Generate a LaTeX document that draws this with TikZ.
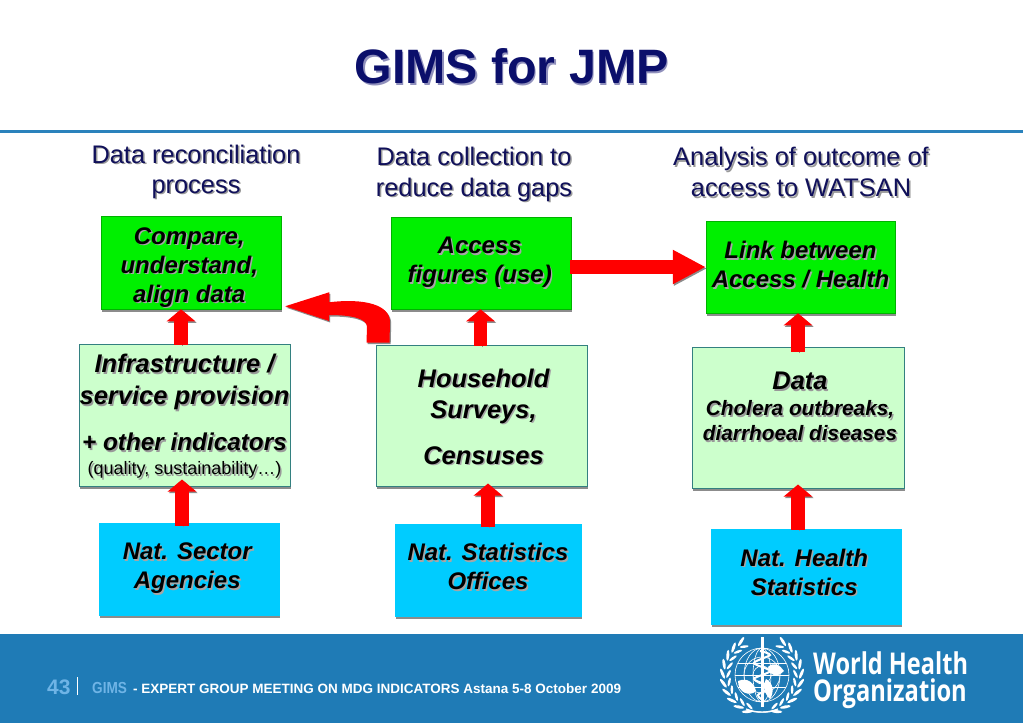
\documentclass[tikz,border=0pt]{standalone}
\usepackage{fontspec}
\setmainfont{Liberation Sans}
\newfontfamily\whofont{Open Sans}
\usepackage{tikz}
\usetikzlibrary{calc, arrows.meta, shadows}
\usepackage{xcolor}
\definecolor{navy}{HTML}{0B0F6B}
\definecolor{headnavy}{HTML}{10105A}
\definecolor{band}{HTML}{1F7BB6}
\definecolor{rule}{HTML}{2A82BC}
\definecolor{boxgreen}{HTML}{00F000}
\definecolor{boxpale}{HTML}{CCFFCC}
\definecolor{boxblue}{HTML}{00CCFF}
\definecolor{palefoot}{HTML}{6FB4E6}
\newcommand{\shd}[2][black!40]{\leavevmode\rlap{\kern1.5pt\raisebox{-1.5pt}{\textcolor{#1}{#2}}}#2}
\newcommand{\lft}[1]{\shd[black!35]{#1}\kern3.5pt}
\newcommand{\rgt}[1]{\kern4pt\shd[black!35]{#1}}
\newcommand{\lowgap}[1]{\rule[-#1]{0pt}{#1}}
\tikzset{
  heading/.style={align=center, text=headnavy, font=\fontsize{25.4}{31}\selectfont},
  boxtext/.style={align=center, font=\fontsize{24}{29}\selectfont\bfseries\itshape},
  flatbox/.style={rectangle, inner sep=0pt, drop shadow={shadow xshift=0.5pt, shadow yshift=-3pt, fill=black!45, opacity=1}},
  greenbox/.style={flatbox, boxtext, fill=boxgreen, draw=green!70!black, line width=0.5pt},
  palebox/.style={flatbox, boxtext, font=\fontsize{25.5}{29}\selectfont\bfseries\itshape, fill=boxpale, draw=teal!60!gray, line width=1pt},
  bluebox/.style={flatbox, boxtext, fill=boxblue, draw=boxblue, line width=0.5pt},
  arrowshadow/.style={preaction={draw=black!45, transform canvas={shift={(1.2pt,-1.5pt)}}}},
  uparrow/.style={arrowshadow, draw=red, line width=13.5pt, -{Triangle[length=12pt, width=28pt]}},
  sidearrow/.style={arrowshadow, draw=red, line width=14pt, -{Triangle[length=33pt, width=32pt]}},
  bendarrow/.style={fill=red, preaction={fill=black!45, transform canvas={shift={(1.2pt,-1.5pt)}}}},
  whotext/.style={anchor=west, text=white, inner sep=0pt, font=\fontsize{30}{30}\selectfont\whofont\bfseries}
}
\begin{document}
\begin{tikzpicture}[x=1pt, y=-1pt]
  \useasboundingbox (0,0) rectangle (1023,723);
  \fill[white] (0,0) rectangle (1023,723);
  \fill[rule] (0,129.5) rectangle (1023,133);
  \fill[band] (0,634) rectangle (1023,723);

  \node[text=navy, font=\fontsize{48.3}{54}\selectfont\bfseries] (title) at (511.5,67) {\shd[blue!25!gray!70]{GIMS for JMP}};

  \node[heading] (recon) at (196,172.5) {\shd{Data reconciliation}\\[-1pt]\shd{process}};
  \node[heading] (collect) at (474,175) {\shd{Data collection to}\\\shd{reduce data gaps}};
  \node[heading] (analysis) at (801,173) {\shd{Analysis of outcome of}\\\shd{access to WATSAN}};

  \node[greenbox, minimum width=180pt, minimum height=93pt] (compare) at (191,262.5) {\rule{0pt}{28pt}\lft{Compare,}\\\lft{understand,}\\\lft{align data}};
  \node[greenbox, minimum width=180pt, minimum height=92pt] (access) at (481.5,263) {\lft{Access}\\\lft{figures (use)}};
  \node[greenbox, minimum width=189pt, minimum height=92pt] (link) at (800.5,267) {\shd[black!35]{Link between}\\\shd[black!35]{Access / Health}\lowgap{5pt}};

  \node[palebox, minimum width=211pt, minimum height=142pt] (infra) at (184.5,415) {\rule{0pt}{23pt}\shd{Infrastructure /}\\[3pt]\shd{service provision}\\[17pt]{\fontsize{24.3}{29}\selectfont\shd{+ other indicators}}\\[-5pt]{\fontsize{18}{21}\selectfont\normalfont\shd{(quality, sustainability…)}}};
  \node[palebox, minimum width=211pt, minimum height=141pt] (house) at (481.5,415.5) {\rule{0pt}{22pt}\rgt{Household}\\[2pt]\rgt{Surveys,}\\[17pt]\rgt{Censuses}};
  \node[palebox, minimum width=212pt, minimum height=141pt] (data) at (798,417.5) {\kern4pt\shd{Data}\\[-3pt]{\fontsize{20.8}{24}\selectfont\kern4pt\shd{Cholera outbreaks,}}\\[-4pt]{\fontsize{20.8}{24}\selectfont\kern4pt\shd{diarrhoeal diseases}}\lowgap{22pt}};

  \node[bluebox, minimum width=180pt, minimum height=92pt] (sector) at (189,569) {\lft{Nat. Sector}\\\lft{Agencies}};
  \node[bluebox, minimum width=186pt, minimum height=92pt] (stats) at (488,570) {\shd[black!35]{Nat. Statistics}\\\shd[black!35]{Offices}\lowgap{7pt}};
  \node[bluebox, minimum width=190pt, minimum height=95pt] (health) at (806,576.5) {\lft{Nat. Health}\\\lft{Statistics}\lowgap{9pt}};

  \draw[uparrow] ([xshift=-3.5pt,yshift=-1pt]infra.north) -- ([xshift=-10pt]compare.south);
  \draw[uparrow] ([yshift=-1pt,xshift=-1pt]house.north) -- ([xshift=-1pt]access.south);
  \draw[uparrow] ([yshift=-5pt]data.north) -- (link.south -| data.north);
  \draw[uparrow] ([xshift=-7pt,yshift=-3pt]sector.north) -- ([xshift=-2.5pt,yshift=7pt]infra.south);
  \draw[uparrow] ([yshift=-3pt]stats.north) -- ([xshift=6.5pt,yshift=3pt]house.south);
  \draw[uparrow] ([xshift=-8pt,yshift=-1pt]health.north) -- ([yshift=4pt]data.south);
  \draw[sidearrow] ([xshift=-2pt,yshift=-4pt]access.east) -- (link.west);

  \coordinate (bendtip) at ($(compare.south east)+(4,-3)$);
  \coordinate (bendfoot) at ($(house.north west)+(14,-2)$);
  \path[bendarrow] (bendtip) -- ++(44,-14) -- ++(0,10)
    .. controls (365,298) and (390,305) .. (390,322) -- (bendfoot) -- ++(-23,0) -- (367,327)
    .. controls (367,318) and (350,315) .. (329,315) -- (329,321) -- cycle;

  \node[anchor=west, text=palefoot, font=\fontsize{21}{24}\selectfont\bfseries, inner xsep=0pt] (slide) at (47,687) {43};
  \fill[white] (76.5,677) rectangle (78,695);
  \node[anchor=west, text=palefoot, font=\fontsize{16}{19}\selectfont\bfseries, inner xsep=0pt] (gims) at (92,688) {\scalebox{.85}[1]{GIMS}};
  \node[anchor=west, text=white, font=\fontsize{13.5}{16}\selectfont\bfseries, inner xsep=0pt] (meeting) at (133,689) {- EXPERT GROUP MEETING ON MDG INDICATORS Astana 5-8 October 2009};

  \node[whotext] (who1) at (813,663) {\scalebox{.785}[1]{World Health}};
  \node[whotext] (who2) at (813,694) {\scalebox{.79}[1]{Organization}};

  % emblem
  \begin{scope}[shift={(762,675)}, y=1pt]
    \draw[white, line width=0.6pt] (0,0) circle (27) circle (18) circle (9);
    \draw[white, line width=0.6pt] (0,0) ellipse (9 and 27) ellipse (18 and 27);
    \draw[white, line width=0.6pt] (-27,0) -- (27,0) (-24,12) -- (24,12) (-24,-12) -- (24,-12);
    \fill[white] (-24,-6) .. controls (-14,-2) and (-8,-8) .. (-6,-16) .. controls (-12,-22) and (-24,-18) .. cycle;
    \fill[white] (6,8) .. controls (12,14) and (18,10) .. (22,4) .. controls (14,-4) and (8,0) .. cycle;
    \fill[white] (4,-4) .. controls (12,-8) and (12,-18) .. (8,-24) .. controls (2,-18) and (0,-10) .. cycle;
    \fill[white] (-1.5,38) rectangle (1.5,-32);
    \draw[white, line width=2pt, smooth] plot coordinates {(-2,24) (8,20) (-8,12) (8,4) (-8,-4) (8,-12) (-4,-20) (2,-26)};
    \foreach \a in {122,136,...,248} {
      \fill[white, shift={(\a:39.5)}, rotate=\a+115] (0,0) ellipse (5.5 and 1.5);
      \fill[white, shift={(\a:33.5)}, rotate=\a+65] (0,0) ellipse (4.5 and 1.3);
    }
    \foreach \a in {58,44,...,-68} {
      \fill[white, shift={(\a:39.5)}, rotate=\a-115] (0,0) ellipse (5.5 and 1.5);
      \fill[white, shift={(\a:33.5)}, rotate=\a-65] (0,0) ellipse (4.5 and 1.3);
    }
    \draw[white, line width=1.2pt] (-16,-34) .. controls (-6,-38) and (6,-38) .. (14,-35);
    \draw[white, line width=1.2pt] (16,-34) .. controls (6,-38) and (-6,-38) .. (-14,-35);
  \end{scope}
\end{tikzpicture}
\end{document}
